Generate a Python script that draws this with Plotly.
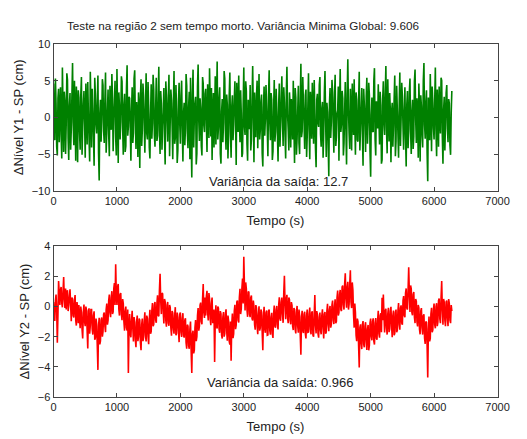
import plotly.graph_objects as go

# Sampling interval of the logged runs (s)
dt = 10

# Level deviation Y1 - SP (cm), region 2, no dead time
y1_dev = [
    4.6, -1.2, -3.1, 5.3, 1.8, -4.0, -5.2, 2.6, 3.9, -3.4, 0.7, 4.1, -2.4, -5.6, 6.8, 0.9, -4.7, 3.5, 2.2, -5.0,
    -0.9, 6.0, 5.1, -2.8, -5.8, 1.6, 3.3, -4.4, -1.6, 2.9, 7.4, -0.7, -3.8, 5.0, 0.4, -5.9, 4.2, 1.3, -6.1, 3.7,
    2.7, -2.0, -4.4, 3.0, 5.5, -5.1, -1.2, 1.9, 3.6, -0.6, -5.5, 4.6, 1.1, -3.7, 4.8, 0.3, -2.9, -6.0, 6.2, 1.5,
    -4.1, 3.9, 0.8, -2.6, -6.6, 5.4, 3.1, -1.0, -2.2, 2.0, 5.7, -4.9, -8.6, 0.6, 2.4, -3.3, -0.3, 5.2, 4.4, -1.9,
    -3.5, 2.3, 6.1, -4.8, -1.9, 0.9, 3.8, -2.3, -5.3, 4.3, 0.5, -1.7, 5.9, 2.5, -4.6, -0.2, 2.1, 5.0, -2.7, -5.2,
    6.6, 1.0, -6.2, 3.4, 1.4, -3.0, -0.6, 5.6, 4.9, -1.4, -5.1, 1.7, 3.2, -4.7, -3.9, 4.0, 7.1, -2.5, -1.3, 2.8,
    2.6, -1.5, -5.9, 0.8, 4.1, -3.5, -2.1, 5.3, 6.4, -0.5, -4.3, 2.1, 0.2, -5.4, 3.4, 1.2, -6.9, 2.7, 5.2, -3.9,
    -1.7, 4.6, 2.9, -0.9, -4.8, 1.0, 6.0, -2.2, -3.0, 4.8, 1.6, -4.1, -5.6, 0.4, 4.5, -2.9, -0.8, 5.8, 3.7, -2.4,
    -4.0, 1.1, 5.4, -3.2, -2.5, 2.4, 6.9, -1.8, -5.0, 3.6, 1.9, -4.4, -1.1, 0.7, 4.0, -2.6, -6.4, 4.9, 3.0, -0.3,
    -3.3, 2.6, 5.8, -5.3, -0.4, 3.8, 2.3, -1.2, -5.7, 1.8, 6.3, -3.6, -2.8, 4.4, 0.9, -6.2, -4.5, 2.2, 4.7, -0.8,
    -3.6, 2.9, 5.0, -1.4, -6.0, 0.6, 2.0, -3.8, -1.5, 5.9, 4.3, -2.2, -4.2, 1.4, 3.5, -5.7, 5.4, -2.6, -8.2, 3.1,
    6.5, -4.1, -0.1, 1.9, 2.8, -6.4, -4.9, 4.2, 7.2, -0.4, -3.2, 2.6, 1.3, -3.9, -5.2, 5.5, 4.6, -1.1, -2.0, 3.2,
    3.9, -0.9, -4.7, 4.5, 1.0, -2.8, 6.7, 2.0, -2.6, 4.0, -5.8, 0.5, 3.3, -4.1, 0.3, 5.6, -3.7, 1.8, 7.6, -3.0,
    -1.4, 2.7, 4.1, -5.0, -6.3, 0.8, 2.5, -3.4, -0.7, 6.3, 5.3, -1.9, -4.4, 3.1, 1.7, -5.6, -2.3, 2.9, 6.1, -2.1,
    -5.5, 1.4, 3.0, -3.1, -1.0, 2.5, 4.9, -0.4, -6.5, 4.7, 2.2, -2.0, 5.7, 0.0, -3.4, 3.7, 0.6, -5.4, -4.9, 1.6,
    6.8, -1.2, -2.4, 4.9, 3.6, -3.6, -5.9, 2.4, 1.2, -1.6, 4.4, -4.5, -3.0, 2.1, 7.0, 0.7, -6.1, 3.4, 0.1, -2.7,
    2.9, 5.0, -4.2, 0.9, 5.9, -3.0, -1.8, 2.2, 3.1, -4.9, -6.7, 1.3, 4.2, -2.5, -0.2, 4.4, 1.5, -1.6, -5.3, 2.8,
    6.4, -0.6, -3.1, 3.3, 2.4, -5.8, -4.6, 1.1, 5.1, -3.3, -2.0, 3.9, 0.9, -2.1, -6.0, 1.9, 4.6, -4.0, -1.2, 2.6,
    5.6, -0.5, -3.9, 4.1, 2.0, -2.4, -5.6, 3.2, 6.9, 0.4, -1.6, -4.5, 3.4, 1.7, -4.1, 2.5, 0.0, -3.0, 5.0, -1.1,
    -6.2, 4.0, 2.7, -5.1, -2.9, 0.8, 4.3, -3.5, -5.0, 2.3, 7.3, -2.7, -1.9, 5.5, 1.8, -0.9, -4.3, 3.0, 3.8, -5.4,
    -2.5, 1.5, 6.0, -1.7, -5.7, 3.5, 1.4, -2.9, 4.7, 0.2, -3.6, 5.1, 0.5, -4.2, -6.8, 2.4, 3.2, -0.8, -1.3, 4.4,
    5.5, -2.3, -4.0, 1.2, 2.1, -5.5, -2.2, 3.3, 6.3, -0.4, -5.4, 2.0, 0.7, -3.6, -8.0, 1.7, 4.0, -2.8, -0.6, 5.1,
    3.5, -1.0, -4.8, 2.7, 5.8, -3.9, -2.7, 0.5, 1.0, 4.2, -5.9, 1.9, 6.6, -2.0, -0.9, 3.6, 2.6, -5.2, -3.5, 0.9,
    4.8, -1.5, -6.4, 3.0, 7.9, 1.1, -2.1, -4.3, 3.9, 0.2, -4.5, 4.6, 0.3, -2.4, 5.2, -0.7, -5.1, 3.4, 2.3, -3.1,
    -3.3, 2.1, 6.2, -4.5, -1.5, 1.3, 4.0, -2.3, -6.6, 3.9, 1.8, -0.6, -4.7, 2.8, 5.4, -3.6, -0.5, 4.7, 3.0, -4.6,
    -8.1, 0.4, 2.7, -1.9, -2.0, 5.0, 6.7, -3.0, -5.2, 2.2, 0.8, -1.5, 4.5, 0.0, -3.7, 3.5, 1.6, -6.3, -5.8, 2.5,
    4.9, -0.8, -2.4, 3.1, 7.0, -1.6, -4.9, 5.2, 0.4, -3.3, 3.3, 1.0, -6.1, 0.6, 2.0, -4.0, -1.1, 2.4, 5.7, -5.3,
    -3.2, 4.3, 1.1, -2.2, -5.5, 1.5, 6.1, -3.9, -0.2, 4.7, 2.9, -1.3, -4.4, 0.9, 4.1, -2.6, -6.7, 1.8, 3.6, -4.2,
    -1.7, 3.4, 5.3, -2.0, -5.0, 0.7, 2.4, -4.3, -2.6, 4.9, 6.5, -0.3, -3.5, 2.6, 0.9, -5.5, 4.6, 1.4, -6.0, 3.0,
    1.5, -2.5, -4.1, 5.0, 7.4, -1.0, -2.9, 1.9, 3.7, -4.8, -8.7, 2.7, 0.2, -3.1, 5.9, 1.2, -4.6, 4.2, 2.1, -1.4,
    -3.0, 2.2, 6.8, -1.8, -5.3, 3.8, 1.3, -4.0, 4.2, 0.1, -2.2, 5.4, 5.0, -2.6, -6.3, 1.0, 2.8, -4.5, -0.8, 3.3,
    4.4, -1.5, -3.4, 2.5, 1.9, -3.8, -5.1, 0.6, 3.6,
]

# Level deviation Y2 - SP (cm)
y2_dev = [
    0.3, -0.6, -0.95, 0.4, 0.8, -0.3, -2.4, -0.5, 1.7, 0.9, 0.1, 1.1, 1.3, 0.2, -0.05, 1.0, 1.96, 0.5, -0.1, 1.2,
    -0.2, 0.9, 1.08, -0.3, 0.06, 0.7, 1.14, 0.1, -0.98, 0.6, 0.5, -0.6, -0.72, 0.4, 0.76, -0.9, -1.26, 0.3, -0.08, -1.1,
    0.1, -0.7, -1.44, 0.0, -0.38, -1.5, -2.12, -0.4, 0.14, -1.0, -1.3, 0.0, -0.24, -1.6, -2.78, -0.3, -0.12, -1.8, -1.26, -0.2,
    -0.2, -1.5, -1.86, -0.6, -0.32, -2.2, -2.08, -0.8, -1.14, -2.6, -4.2, -1.3, -0.74, -2.5, -2.28, -0.9, -0.72, -2.0, -1.66, -0.5,
    -0.4, -1.3, -1.7, -0.2, 0.2, -1.2, -0.9, 0.4, 0.8, -0.4, -0.7, 0.6, 1.02, -0.5, -0.36, 1.2, 1.56, 0.1, 2.8, 0.8,
    0.1, 1.3, 1.5, -0.2, -0.6, 0.8, 0.9, -0.5, -0.9, 0.5, 0.2, -1.0, -1.6, -0.3, 0.0, -1.4, -1.6, -0.2, -4.4, -1.5,
    -0.5, -1.8, -2.04, -0.9, -0.28, -1.4, -2.32, -0.7, -1.06, -2.2, -2.7, -1.0, -0.6, -2.3, -2.0, -0.8, -0.9, -2.4, -2.9, -1.2,
    -0.8, -2.3, -2.04, -1.0, -0.38, -1.9, -2.32, -0.6, -0.76, -2.0, -2.5, -0.9, -0.22, -1.8, -1.64, -0.3, 0.24, -1.3, -1.18, 0.1,
    0.3, -0.9, -1.08, 0.2, 0.74, -0.6, -0.64, 1.1, 2.18, 0.4, -0.5, 0.9, 0.84, -0.4, -1.12, 0.5, 0.32, -0.9, -1.34, 0.1,
    0.3, -1.1, -1.28, 0.1, -0.06, -1.4, -1.94, -0.3, -0.42, -1.5, -1.8, -0.6, -0.04, -1.9, -1.78, -0.4, -0.72, -1.6, -2.36, -0.5,
    -0.4, -1.7, -2.02, -0.8, -0.44, -1.9, -2.06, -0.9, -0.78, -2.4, -2.8, -1.2, -1.3, -2.6, -2.8, -1.5, -1.0, -3.0, -4.4, -1.8,
    -1.6, -3.1, -2.9, -1.4, -0.9, -2.3, -2.0, -0.6, -0.1, -1.6, -1.3, 0.1, 0.26, -1.0, -1.18, 0.5, 1.5, -0.4, -0.76, 0.6,
    -0.6, 0.7, 1.04, -0.4, -0.92, 0.9, 0.52, -0.8, -1.24, 0.2, 0.6, -1.1, -0.94, -0.2, -3.68, -0.9, 0.08, -1.3, -1.46, 0.0,
    -0.1, -1.5, -1.74, -0.3, -0.48, -1.9, -2.12, -0.7, -0.36, -2.0, -1.8, -0.5, -0.18, -1.6, -2.26, -0.6, -0.94, -2.3, -2.52, -1.0,
    -3.6, -1.2, -0.46, -2.1, -1.82, -0.3, 0.12, -1.5, -1.24, 0.3, 0.4, -0.9, -1.06, 0.6, 1.18, -0.5, -0.18, 1.2, 1.86, 0.2,
    3.3, 1.4, -0.26, 1.6, 1.18, -0.2, -0.68, 1.0, 0.96, -0.5, -0.7, 0.6, 0.74, -0.8, -0.92, 0.4, 0.02, -1.2, -1.54, 0.1,
    -0.1, -1.3, -1.84, -0.5, 0.02, -1.6, -1.42, -0.2, -0.36, -1.7, -2.9, -0.6, -0.02, -1.5, -1.74, -0.4, -0.26, -1.9, -1.88, -0.3,
    -0.2, -1.6, -1.86, -0.7, -0.42, -1.8, -2.08, -0.5, 0.06, -1.3, -1.4, -0.2, 0.04, -1.2, -1.52, 0.1, 0.62, -0.8, -0.94, 0.3,
    0.6, -0.5, -1.08, 0.9, 2.04, 0.2, -0.84, 0.5, 0.78, -0.7, -1.1, 0.6, 0.46, -0.9, -1.18, 0.3, 0.08, -1.3, -1.56, -0.1,
    -0.2, -1.5, -1.78, -0.4, 0.04, -1.3, -1.74, -0.2, -0.62, -1.9, -3.2, -0.7, -0.28, -1.6, -1.76, -0.5, -0.34, -1.8, -2.12, -0.6,
    -0.2, -1.7, -1.68, -0.5, -0.06, -1.5, -1.84, -0.4, -0.32, -1.9, -2.0, -0.6, 0.76, -1.2, -1.78, -0.3, -0.52, -1.8, -2.06, -0.7,
    -0.4, -1.6, -1.84, -0.6, -0.18, -1.4, -2.12, -0.5, -0.36, -1.8, -1.7, -0.3, 0.18, -1.2, -1.64, -0.2, 0.04, -1.4, -1.18, 0.1,
    0.4, -0.9, -1.16, 0.0, 0.48, -1.1, -0.98, 0.6, 1.06, -0.6, -0.4, 0.8, 1.1, -0.2, -0.3, 1.3, 1.4, 0.1, -0.2, 1.5,
    2.2, 0.5, -0.08, 1.3, 1.64, -0.2, 0.16, 1.5, 2.4, 0.3, -0.1, 1.6, 1.1, -0.5, -1.4, 0.2, -0.4, -1.9, -2.3, -0.8,
    -1.0, -2.6, -4.04, -1.4, -1.18, -2.4, -2.82, -1.2, -0.96, -2.5, -2.7, -1.3, -1.04, -2.3, -2.88, -1.5, -1.22, -2.9, -2.56, -1.1,
    -0.8, -2.0, -2.24, -1.0, -0.78, -2.3, -2.52, -1.1, -0.76, -2.1, -2.2, -0.9, -0.28, -1.8, -2.06, -0.6, -0.44, -1.7, 0.58, -0.9,
    0.8, -0.6, -1.72, -0.3, -0.14, -1.4, -1.86, -0.5, -0.08, -1.7, -1.5, -0.3, -0.02, -1.3, -2.04, -0.6, -0.26, -1.9, -1.78, -0.4,
    -0.2, -1.7, -1.58, -0.3, 0.24, -1.2, -1.54, -0.1, 0.08, -1.1, -1.2, 0.4, 0.7, -0.6, -0.7, 0.9, 1.2, -0.1, -0.2, 1.1,
    2.6, 0.9, -0.36, 1.4, 1.18, -0.4, -0.58, 0.8, 0.96, -0.7, -1.1, 0.5, 0.34, -1.0, -1.32, 0.1, -0.08, -1.5, -1.84, -0.3,
    -0.1, -1.4, -1.86, -0.6, -0.52, -2.1, -2.48, -1.0, -1.04, -2.6, -4.7, -1.5, -0.66, -2.3, -2.12, -0.5, -0.08, -1.7, -1.54, -0.2,
    0.2, -1.2, -1.44, 0.0, 0.22, -1.3, -1.02, 0.4, 0.54, -0.8, -1.1, 0.6, 1.7, -0.2, -1.2, 0.5, 0.3, -0.9, -1.3, 0.3,
    0.4, -0.8, -1.3, 0.5, 0.2, -0.9, -1.1, 0.1, -0.3,
]

t1 = [i * dt for i in range(len(y1_dev))]
t2 = [i * dt for i in range(len(y2_dev))]

x_ticks = [0, 1000, 2000, 3000, 4000, 5000, 6000, 7000]
y1_ticks = [-10, -5, 0, 5, 10]
y2_ticks = [-6, -4, -2, 0, 2, 4]

title_text = "Teste na região 2 sem tempo morto. Variância Minima Global: 9.606"
var1_text = "Variância da saída: 12.7"
var2_text = "Variância da saída: 0.966"

FONT = "Liberation Sans, Arial, sans-serif"
AX = "#444444"
TXT = "#222222"

fig = go.Figure()
# simplify=False keeps every sample so the dense record renders as a solid band
fig.add_trace(go.Scatter(x=t1, y=y1_dev, mode="lines",
                         line=dict(color="#008000", width=1.6, simplify=False),
                         xaxis="x", yaxis="y", showlegend=False, hoverinfo="skip"))
fig.add_trace(go.Scatter(x=t2, y=y2_dev, mode="lines",
                         line=dict(color="#ff0000", width=1.6, simplify=False),
                         xaxis="x2", yaxis="y2", showlegend=False, hoverinfo="skip"))

W, H = 527, 439
xdom = [52 / W, 509 / W]


def xaxis_style(anchor):
    return dict(domain=xdom, anchor=anchor, range=[0, 7000], tickvals=x_ticks,
                ticks="inside", ticklen=4, tickcolor=AX, showline=True, linecolor=AX,
                linewidth=1, mirror="ticks", showgrid=False, zeroline=False,
                tickfont=dict(family=FONT, size=11, color=TXT),
                title=dict(text="Tempo (s)", font=dict(family=FONT, size=13, color=TXT), standoff=9))


def yaxis_style(dom, rng, ticks, label, anchor):
    return dict(domain=dom, anchor=anchor, range=rng, tickvals=ticks,
                ticks="inside", ticklen=4, tickcolor=AX, showline=True, linecolor=AX,
                linewidth=1, mirror="ticks", showgrid=False, zeroline=False,
                tickfont=dict(family=FONT, size=11, color=TXT),
                title=dict(text=label, font=dict(family=FONT, size=13, color=TXT), standoff=5))


fig.update_layout(
    width=W, height=H,
    margin=dict(l=0, r=0, t=0, b=0),
    paper_bgcolor="white", plot_bgcolor="white",
    font=dict(family=FONT, size=11, color=TXT),
    xaxis=xaxis_style("y"),
    yaxis=yaxis_style([1 - 190 / H, 1 - 39 / H], [-10, 10], y1_ticks, "ΔNível Y1 - SP (cm)", "x"),
    xaxis2=xaxis_style("y2"),
    yaxis2=yaxis_style([1 - 402 / H, 1 - 247 / H], [-6, 4], y2_ticks, "ΔNível Y2 - SP (cm)", "x2"),
    annotations=[
        dict(text=title_text, x=247 / W, y=1 - 20 / H, xref="paper", yref="paper",
             xanchor="center", yanchor="middle", showarrow=False,
             font=dict(family=FONT, size=11.7, color=TXT)),
        dict(text=var1_text, x=2420, y=-8.8, xref="x", yref="y", xanchor="left",
             yanchor="middle", showarrow=False, font=dict(family=FONT, size=13, color=TXT)),
        dict(text=var2_text, x=2390, y=-5.03, xref="x2", yref="y2", xanchor="left",
             yanchor="middle", showarrow=False, font=dict(family=FONT, size=13, color=TXT)),
    ],
)

fig.write_html("out.html")
